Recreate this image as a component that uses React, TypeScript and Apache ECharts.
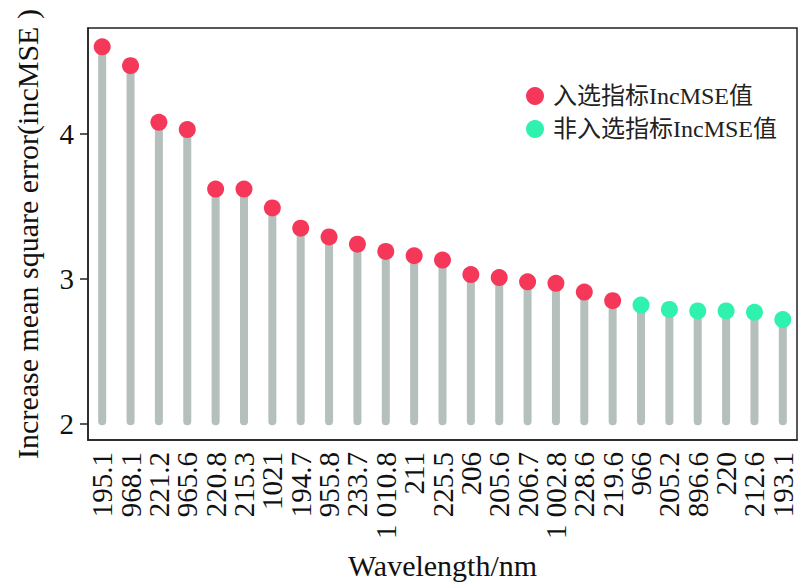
import React, { useEffect, useRef } from "react";
import * as echarts from "echarts";

const wavelengths = [
  "195.1", "968.1", "221.2", "965.6", "220.8", "215.3", "1021", "194.7", "955.8",
  "233.7", "1 010.8", "211", "225.5", "206", "205.6", "206.7", "1 002.8", "228.6",
  "219.6", "966", "205.2", "896.6", "220", "212.6", "193.1",
];
const incMSE = [
  4.6, 4.47, 4.08, 4.03, 3.62, 3.62, 3.49, 3.35, 3.29, 3.24, 3.19, 3.16, 3.13,
  3.03, 3.01, 2.98, 2.97, 2.91, 2.85, 2.82, 2.79, 2.78, 2.78, 2.77, 2.72,
];
const selectedCount = 19;
const selectedName = "入选指标IncMSE值";
const unselectedName = "非入选指标IncMSE值";
const yTicks = [2, 3, 4];

const FONT = "'Liberation Serif', 'Times New Roman', 'Noto Sans CJK SC', serif";

export default function App() {
  const ref = useRef<HTMLDivElement>(null);
  useEffect(() => {
    document.body.style.margin = "0";
    if (!ref.current) return;
    const chart = echarts.init(ref.current, null, { renderer: "svg" });
    const stemData = incMSE.map((v, i) => [i, v]);
    const selData = incMSE.map((v, i) => (i < selectedCount ? [i, v] : [i, null]));
    const unselData = incMSE.map((v, i) => (i >= selectedCount ? [i, v] : [i, null]));
    chart.setOption({
      animation: false,
      grid: {
        left: 88,
        right: 3,
        top: 28,
        bottom: 148,
        show: true,
        borderColor: "#222",
        borderWidth: 1.5,
      },
      legend: {
        orient: "vertical",
        left: 521,
        top: 79,
        itemGap: 9,
        icon: "circle",
        itemWidth: 18,
        itemHeight: 18,
        textStyle: { fontFamily: FONT, fontSize: 24, color: "#222", padding: [0, 0, 0, 4] },
        data: [selectedName, unselectedName],
      },
      xAxis: {
        type: "category",
        data: wavelengths,
        boundaryGap: true,
        axisLine: { lineStyle: { color: "#222", width: 1.5 } },
        axisTick: { alignWithLabel: true, length: 7, lineStyle: { color: "#222", width: 1.5 }, interval: 0 },
        axisLabel: {
          interval: 0,
          rotate: 90,
          fontFamily: FONT,
          fontSize: 29,
          color: "#111",
          margin: 12,
          hideOverlap: false,
        },
        name: "Wavelength/nm",
        nameLocation: "middle",
        nameGap: 110,
        nameTextStyle: { fontFamily: FONT, fontSize: 30, color: "#111" },
      },
      yAxis: {
        type: "value",
        min: 1.89,
        max: 4.73,
        splitLine: { show: false },
        axisLine: { show: true, lineStyle: { color: "#222", width: 1.5 } },
        axisTick: { show: true, length: 8, customValues: yTicks, lineStyle: { color: "#222", width: 1.5 } },
        axisLabel: {
          customValues: yTicks,
          fontFamily: FONT,
          fontSize: 29,
          color: "#111",
          margin: 14,
        },
        name: "Increase mean square error(incMSE )",
        nameLocation: "middle",
        nameGap: 46,
        nameTextStyle: { fontFamily: FONT, fontSize: 30, color: "#111" },
      },
      series: [
        {
          type: "custom",
          name: "stem",
          data: stemData,
          renderItem: (params: any, api: any) => {
            const top = api.coord([api.value(0), api.value(1)]);
            const base = api.coord([api.value(0), 2.02]);
            return {
              type: "line",
              shape: { x1: top[0], y1: base[1], x2: top[0], y2: top[1] },
              style: { stroke: "#b5bfbc", lineWidth: 8, lineCap: "round" },
            };
          },
          z: 1,
        },
        {
          type: "scatter",
          name: selectedName,
          data: selData,
          symbolSize: 17,
          itemStyle: { color: "#f5385a", opacity: 1 },
          z: 3,
        },
        {
          type: "scatter",
          name: unselectedName,
          data: unselData,
          symbolSize: 17,
          itemStyle: { color: "#2ef2ae", opacity: 1 },
          z: 3,
        },
      ],
    });
    return () => chart.dispose();
  }, []);
  return <div ref={ref} style={{ width: 800, height: 588 }} />;
}
